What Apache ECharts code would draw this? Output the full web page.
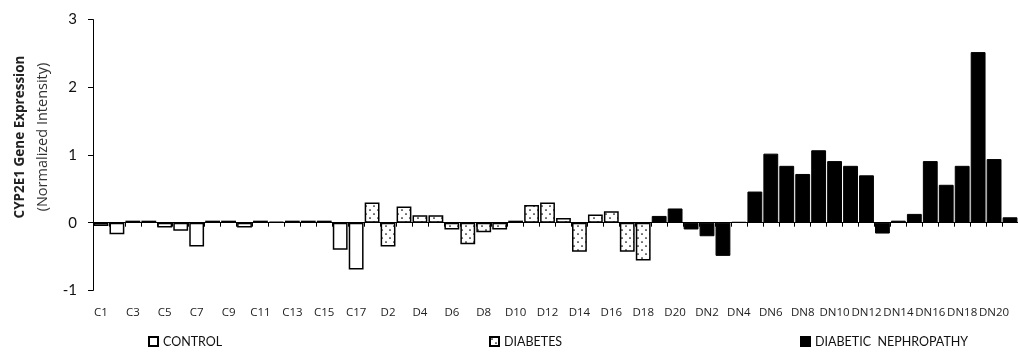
<!DOCTYPE html>
<html>
<head>
<meta charset="utf-8">
<script src="https://cdn.jsdelivr.net/npm/echarts@6/dist/echarts.min.js"></script>
<style>html,body{margin:0;padding:0;background:#fff;}#chart{width:1018px;height:353px;}</style>
</head>
<body>
<div id="chart"></div>
<script>
// Categories (sample labels)
var categories = ['C1','C2','C3','C4','C5','C6','C7','C8','C9','C10','C11','C12','C13','C14','C15','C16','C17',
  'D1','D2','D3','D4','D5','D6','D7','D8','D9','D10','D11','D12','D13','D14','D15','D16','D17','D18','D19','D20',
  'DN1','DN2','DN3','DN4','DN5','DN6','DN7','DN8','DN9','DN10','DN11','DN12','DN13','DN14','DN15','DN16','DN17','DN18','DN19','DN20','DN21'];
// Series values
var controlValues = [-0.05,-0.17,0.03,0.03,-0.07,-0.12,-0.35,0.03,0.03,-0.07,0.03,0.01,0.03,0.03,0.03,-0.40,-0.69];
var diabetesValues = [0.30,-0.35,0.24,0.11,0.11,-0.10,-0.32,-0.14,-0.10,0.03,0.26,0.30,0.07,-0.43,0.12,0.17,-0.43,-0.56];
var nephropathyValues = [0.10,0.21,-0.10,-0.20,-0.49,0.01,0.46,1.02,0.84,0.72,1.07,0.91,0.84,0.70,-0.16,0.03,0.13,0.91,0.56,0.84,2.52,0.94,0.08];
var yTicks = [-1,0,1,2,3];

function pad(vals, start) {
  var out = [];
  for (var i = 0; i < categories.length; i++) {
    var j = i - start;
    out.push(j >= 0 && j < vals.length ? vals[j] : null);
  }
  return out;
}
var controlData = pad(controlValues, 0);
var diabetesData = pad(diabetesValues, controlValues.length);
var nephData = pad(nephropathyValues, controlValues.length + diabetesValues.length);

// dotted fill pattern
var pc = document.createElement('canvas');
pc.width = 8; pc.height = 8;
var ctx = pc.getContext('2d');
ctx.fillStyle = '#fff'; ctx.fillRect(0,0,8,8);
ctx.fillStyle = '#000';
ctx.beginPath(); ctx.arc(2,2,0.85,0,Math.PI*2); ctx.fill();
ctx.beginPath(); ctx.arc(6,6,0.85,0,Math.PI*2); ctx.fill();

var chart = echarts.init(document.getElementById('chart'));
var legendText = {fontFamily: 'Lato', fontSize: 12.5, color: '#111'};
chart.setOption({
  animation: false,
  backgroundColor: '#fff',
  grid: {left: 93, top: 19.6, height: 270.8, width: 58 * 16.15},
  graphic: [
    {type: 'text', x: 20, y: 137, rotation: Math.PI / 2,
      style: {text: 'CYP2E1 Gene Expression', font: 'bold 13.5px "Open Sans"', fill: '#222', align: 'center', verticalAlign: 'middle'}},
    {type: 'text', x: 43, y: 137, rotation: Math.PI / 2,
      style: {text: '(Normalized Intensity)', font: '14.5px "Open Sans"', fill: '#333', align: 'center', verticalAlign: 'middle'}}
  ],
  legend: [
    {data: ['CONTROL'], left: 148, top: 335, padding: 0, itemWidth: 9, itemHeight: 9, icon: 'rect', textStyle: legendText},
    {data: ['DIABETES'], left: 489, top: 335, padding: 0, itemWidth: 9, itemHeight: 9, icon: 'rect', textStyle: legendText},
    {data: ['DIABETIC  NEPHROPATHY'], left: 800, top: 335, padding: 0, itemWidth: 9, itemHeight: 9, icon: 'rect', textStyle: legendText}
  ],
  xAxis: [
    {type: 'category', data: categories, position: 'bottom',
      axisLine: {onZero: true, lineStyle: {color: '#000', width: 1}},
      axisTick: {show: true, interval: 0, length: 4, lineStyle: {color: '#000'}},
      axisLabel: {show: false}, splitLine: {show: false}},
    {type: 'category', data: categories, position: 'bottom',
      axisLine: {show: false, onZero: false}, axisTick: {show: false},
      axisLabel: {interval: 1, fontSize: 11.5, margin: 16, color: '#222', fontFamily: 'Open Sans'},
      splitLine: {show: false}}
  ],
  yAxis: {type: 'value', min: yTicks[0], max: yTicks[yTicks.length - 1], interval: 1,
    axisLine: {show: true, lineStyle: {color: '#000', width: 1}},
    axisTick: {show: true, length: 5, lineStyle: {color: '#000'}},
    axisLabel: {fontSize: 15, margin: 16, color: '#111', fontFamily: 'Lato'},
    splitLine: {show: false}},
  series: [
    {name: 'CONTROL', type: 'bar', data: controlData, barGap: '-100%', barCategoryGap: '7%',
      itemStyle: {color: '#fff', borderColor: '#000', borderWidth: 1.5}},
    {name: 'DIABETES', type: 'bar', data: diabetesData, barGap: '-100%', barCategoryGap: '7%',
      itemStyle: {color: {image: pc, repeat: 'repeat'}, borderColor: '#000', borderWidth: 1.5}},
    {name: 'DIABETIC  NEPHROPATHY', type: 'bar', data: nephData, barGap: '-100%', barCategoryGap: '7%',
      itemStyle: {color: '#000', borderColor: '#000', borderWidth: 1}}
  ]
});
</script>
</body>
</html>
